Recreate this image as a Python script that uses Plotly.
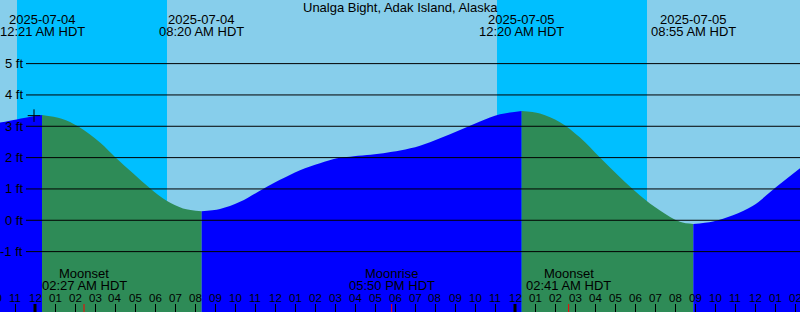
import plotly.graph_objects as go
from datetime import datetime

W, H = 800, 312
TITLE = "Unalga Bight, Adak Island, Alaska"

# Tide readings (HDT) and heights in feet
tide_times = [
    "2025-07-03 22:15", "2025-07-03 23:05", "2025-07-03 23:55", "2025-07-04 00:21",
    "2025-07-04 01:20", "2025-07-04 02:10", "2025-07-04 03:15", "2025-07-04 04:00",
    "2025-07-04 04:54", "2025-07-04 05:45", "2025-07-04 06:35", "2025-07-04 07:24",
    "2025-07-04 08:20", "2025-07-04 09:15", "2025-07-04 10:15", "2025-07-04 11:24",
    "2025-07-04 12:15", "2025-07-04 13:15", "2025-07-04 14:15", "2025-07-04 15:06",
    "2025-07-04 15:45", "2025-07-04 16:36", "2025-07-04 18:15", "2025-07-04 19:15",
    "2025-07-04 20:15", "2025-07-04 21:15", "2025-07-04 22:15", "2025-07-04 23:15",
    "2025-07-05 00:20", "2025-07-05 01:15", "2025-07-05 02:15", "2025-07-05 03:15",
    "2025-07-05 04:15", "2025-07-05 05:15", "2025-07-05 06:15", "2025-07-05 07:15",
    "2025-07-05 08:15", "2025-07-05 08:55", "2025-07-05 09:54", "2025-07-05 10:54",
    "2025-07-05 11:54", "2025-07-05 13:00", "2025-07-05 14:15",
]
tide_ft = [
    3.12, 3.22, 3.32, 3.36,
    3.24, 2.99, 2.48, 2.02,
    1.50, 1.02, 0.62, 0.38,
    0.29, 0.36, 0.59, 1.00,
    1.29, 1.60, 1.82, 1.98,
    2.03, 2.08, 2.23, 2.38,
    2.62, 2.88, 3.15, 3.38,
    3.49, 3.41, 3.13, 2.64,
    2.00, 1.37, 0.79, 0.31,
    -0.05, -0.12, -0.04, 0.16,
    0.46, 1.03, 1.66,
]

# High / low tide events
extreme_times = ["2025-07-04 00:21", "2025-07-04 08:20", "2025-07-05 00:20", "2025-07-05 08:55"]
extreme_dates = ["2025-07-04", "2025-07-04", "2025-07-05", "2025-07-05"]
extreme_labels = ["12:21 AM HDT", "08:20 AM HDT", "12:20 AM HDT", "08:55 AM HDT"]

# Night (sunset -> sunrise)
night_start = ["2025-07-03 23:06", "2025-07-04 23:06"]
night_end = ["2025-07-04 06:36", "2025-07-05 06:36"]

# Moon events
moon_events = ["Moonset", "Moonrise", "Moonset"]
moon_times = ["2025-07-04 02:27", "2025-07-04 17:50", "2025-07-05 02:41"]
moon_labels = ["02:27 AM HDT", "05:50 PM HDT", "02:41 AM HDT"]

# Current-time marker
now_time = ["2025-07-03 23:57"]
now_ft = [3.34]

midnights = ["2025-07-04 00:00", "2025-07-05 00:00"]
hour_ticks = [f"2025-07-0{3 + (h // 24)} {h % 24:02d}:00" for h in range(22, 22 + 41)]
y_ticks = [-1, 0, 1, 2, 3, 4, 5]
x_range = ["2025-07-03 22:15", "2025-07-05 14:15"]
y_range = [-2.927, 7.03]

C_DAY = "#87CEEB"
C_NIGHT = "#00BFFF"
C_RISE = "#0000FF"
C_FALL = "#2E8B57"
FONT = "Liberation Sans"
FS = 13


def py(px):
    return 1 - px / H


def px_x(px):
    return px / W


def parse(t):
    return datetime.strptime(t, "%Y-%m-%d %H:%M")


def xfrac(t):
    # position on the x axis scale as a fraction of the plot width
    r0, r1 = parse(x_range[0]), parse(x_range[1])
    return (parse(t) - r0) / (r1 - r0)


fig = go.Figure()

# split tide series into rising / falling segments at the extremes
cuts = [0] + [tide_times.index(t) for t in extreme_times] + [len(tide_times) - 1]
for a, b in zip(cuts[:-1], cuts[1:]):
    xs = tide_times[a:b + 1]
    ys = tide_ft[a:b + 1]
    color = C_RISE if ys[-1] > ys[0] else C_FALL
    fig.add_trace(go.Scatter(x=[xs[0], xs[-1]], y=[y_range[0] - 1, y_range[0] - 1],
                             mode="lines", line=dict(width=0), hoverinfo="skip"))
    fig.add_trace(go.Scatter(x=xs, y=ys, mode="lines", fill="tonexty", fillcolor=color,
                             line=dict(width=0, color=color, shape="spline", smoothing=1.0),
                             hoverinfo="skip"))

fig.add_trace(go.Scatter(x=now_time, y=now_ft, mode="markers",
                         marker=dict(symbol="cross-thin", size=9,
                                     line=dict(color="black", width=1)),
                         hoverinfo="skip"))

shapes = []
for s, e in zip(night_start, night_end):
    shapes.append(dict(type="rect", xref="x", yref="paper", x0=s, x1=e, y0=0, y1=1,
                       fillcolor=C_NIGHT, line=dict(width=0), layer="below"))
for v in y_ticks:
    shapes.append(dict(type="line", xref="paper", yref="y", x0=px_x(26), x1=1, y0=v, y1=v,
                       line=dict(color="black", width=1), layer="above"))
for m in midnights:
    shapes.append(dict(type="line", xref="x", yref="paper", x0=m, x1=m, y0=0, y1=8 / H,
                       line=dict(color="black", width=3), layer="above"))
for t in moon_times:
    shapes.append(dict(type="line", xref="x", yref="paper", x0=t, x1=t, y0=0, y1=8 / H,
                       line=dict(color="red", width=1), layer="above"))

ann = []
ann.append(dict(text=TITLE, xref="paper", yref="paper", x=0.5, y=py(7), showarrow=False,
                xanchor="center", yanchor="middle"))
for t, d, l in zip(extreme_times, extreme_dates, extreme_labels):
    ann.append(dict(text=d, xref="x", yref="paper", x=t, y=py(19.5), showarrow=False,
                    xanchor="center", yanchor="middle"))
    ann.append(dict(text=l, xref="x", yref="paper", x=t, y=py(31.5), showarrow=False,
                    xanchor="center", yanchor="middle"))
for t, ev, l in zip(moon_times, moon_events, moon_labels):
    ann.append(dict(text=ev, xref="x", yref="paper", x=t, y=py(273.3), showarrow=False,
                    xanchor="center", yanchor="middle"))
    ann.append(dict(text=l, xref="x", yref="paper", x=t, y=py(285.7), showarrow=False,
                    xanchor="center", yanchor="middle"))
for v in y_ticks:
    ann.append(dict(text=f"{v} ft", xref="paper", yref="y", x=px_x(24.5), y=v,
                    showarrow=False, xanchor="right", yanchor="middle"))
for t in hour_ticks:
    lab = parse(t).strftime("%I")
    ann.append(dict(text=lab, xref="paper", yref="paper", x=xfrac(t), y=py(297.7),
                    showarrow=False, xanchor="center", yanchor="middle",
                    font=dict(size=11.5)))

fig.update_layout(
    width=W, height=H, margin=dict(l=0, r=0, t=0, b=0, pad=0),
    paper_bgcolor=C_DAY, plot_bgcolor=C_DAY, showlegend=False,
    font=dict(family=FONT, size=FS, color="black"),
    shapes=shapes, annotations=ann,
    xaxis=dict(type="date", range=x_range, showgrid=False, zeroline=False, showline=False,
               ticks="inside", ticklen=8, tickwidth=1, tickcolor="black",
               tick0="2025-07-04 00:00", dtick=3600000, showticklabels=False, fixedrange=True),
    yaxis=dict(range=y_range, showgrid=False, zeroline=False, showline=False,
               showticklabels=False, ticks="", fixedrange=True),
)

fig.write_html("out.html", config={"displayModeBar": False})
